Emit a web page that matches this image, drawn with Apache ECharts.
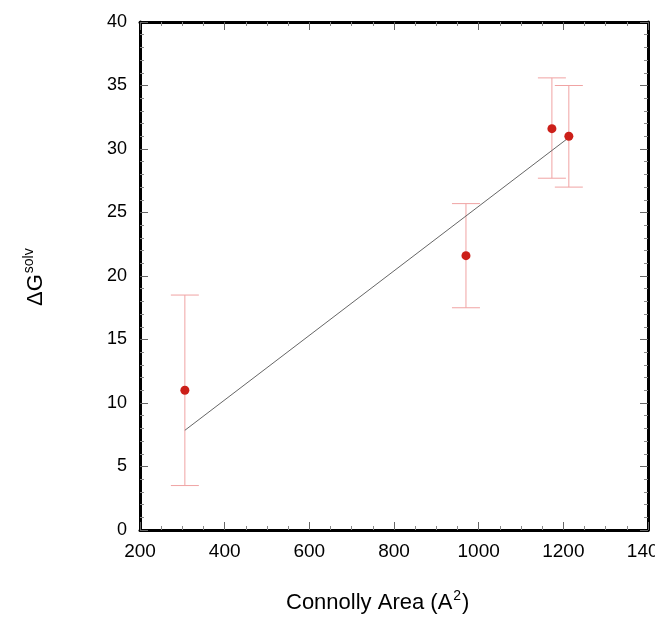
<!DOCTYPE html>
<html>
<head>
<meta charset="utf-8">
<script src="https://cdn.jsdelivr.net/npm/echarts@6/dist/echarts.min.js"></script>
<style>
  html, body { margin: 0; padding: 0; background: #fff; }
  #chart { width: 655px; height: 617px; }
</style>
</head>
<body>
<div id="chart"></div>
<script>
// measured points (Connolly area vs solvation energy)
const areas = [306, 970, 1173, 1213];
const dG = [11.0, 21.6, 31.6, 31.0];
const errLow = [3.5, 17.5, 27.7, 27.0];
const errHigh = [18.5, 25.7, 35.6, 35.0];
// linear fit, drawn between its end points
const fitX = [306, 1213];
const fitY = [7.85, 30.9];

const FONT = 'Liberation Sans, Arial, sans-serif';

const chart = echarts.init(document.getElementById('chart'));

const pointData = areas.map((x, i) => [x, dG[i]]);
const errData = areas.map((x, i) => [x, errLow[i], errHigh[i]]);
const fitData = fitX.map((x, i) => [x, fitY[i]]);

function errorBar(params, api) {
  const x = api.value(0);
  const lo = api.coord([x, api.value(1)]);
  const hi = api.coord([x, api.value(2)]);
  const half = 14;
  const style = { stroke: '#f0a3a3', lineWidth: 1 };
  return {
    type: 'group',
    children: [
      { type: 'line', shape: { x1: lo[0], y1: lo[1], x2: hi[0], y2: hi[1] }, style },
      { type: 'line', shape: { x1: lo[0] - half, y1: lo[1], x2: lo[0] + half, y2: lo[1] }, style },
      { type: 'line', shape: { x1: hi[0] - half, y1: hi[1], x2: hi[0] + half, y2: hi[1] }, style },
    ],
  };
}

const tickBits = {
  axisLine: { show: true, onZero: false, lineStyle: { color: '#000', width: 3 } },
  axisTick: { show: true, inside: true, length: 8, lineStyle: { color: '#666', width: 1 } },
  minorTick: { show: true, length: 4, lineStyle: { color: '#888', width: 1 } },
  splitLine: { show: false },
  minorSplitLine: { show: false },
};

const option = {
  animation: false,
  backgroundColor: '#fff',
  grid: { left: 140, right: 7, top: 22, bottom: 87, containLabel: false, outerBoundsMode: 'none' },
  xAxis: [
    {
      type: 'value', min: 200, max: 1400, interval: 200,
      ...tickBits,
      minorTick: { ...tickBits.minorTick, splitNumber: 4 },
      axisLabel: { color: '#000', fontSize: 19, fontFamily: FONT, margin: 12, formatter: v => String(v) },
    },
    {
      type: 'value', position: 'top', min: 200, max: 1400, interval: 200,
      ...tickBits,
      minorTick: { ...tickBits.minorTick, splitNumber: 4 },
      axisLabel: { show: false },
    },
  ],
  yAxis: [
    {
      type: 'value', min: 0, max: 40, interval: 5,
      ...tickBits,
      minorTick: { ...tickBits.minorTick, splitNumber: 5 },
      axisLabel: { color: '#000', fontSize: 18, fontFamily: FONT, margin: 13 },
    },
    {
      type: 'value', position: 'right', min: 0, max: 40, interval: 5,
      ...tickBits,
      minorTick: { ...tickBits.minorTick, splitNumber: 5 },
      axisLabel: { show: false },
    },
  ],
  graphic: [
    {
      type: 'text', left: 286, top: 589,
      style: {
        text: '{m|Connolly Area (A}{s|2}{m|)}',
        rich: {
          m: { fontSize: 22, fontFamily: FONT, fill: '#000' },
          s: { fontSize: 14, fontFamily: FONT, fill: '#000', padding: [0, 1, 14, 1] },
        },
      },
    },
    {
      type: 'text', x: 22, y: 306, rotation: Math.PI / 2,
      style: {
        text: '{m|ΔG}{s|solv}',
        rich: {
          m: { fontSize: 22, fontFamily: FONT, fill: '#000' },
          s: { fontSize: 14, fontFamily: FONT, fill: '#000', padding: [0, 0, 14, 1] },
        },
      },
    },
  ],
  series: [
    {
      type: 'custom',
      renderItem: errorBar,
      data: errData,
      encode: { x: 0, y: [1, 2] },
      z: 1,
    },
    {
      type: 'line',
      data: fitData,
      showSymbol: false,
      lineStyle: { color: '#666', width: 1 },
      z: 2,
    },
    {
      type: 'scatter',
      data: pointData,
      symbolSize: 9,
      itemStyle: { color: '#cc1f19', opacity: 1 },
      z: 3,
    },
  ],
};

chart.setOption(option);
</script>
</body>
</html>
